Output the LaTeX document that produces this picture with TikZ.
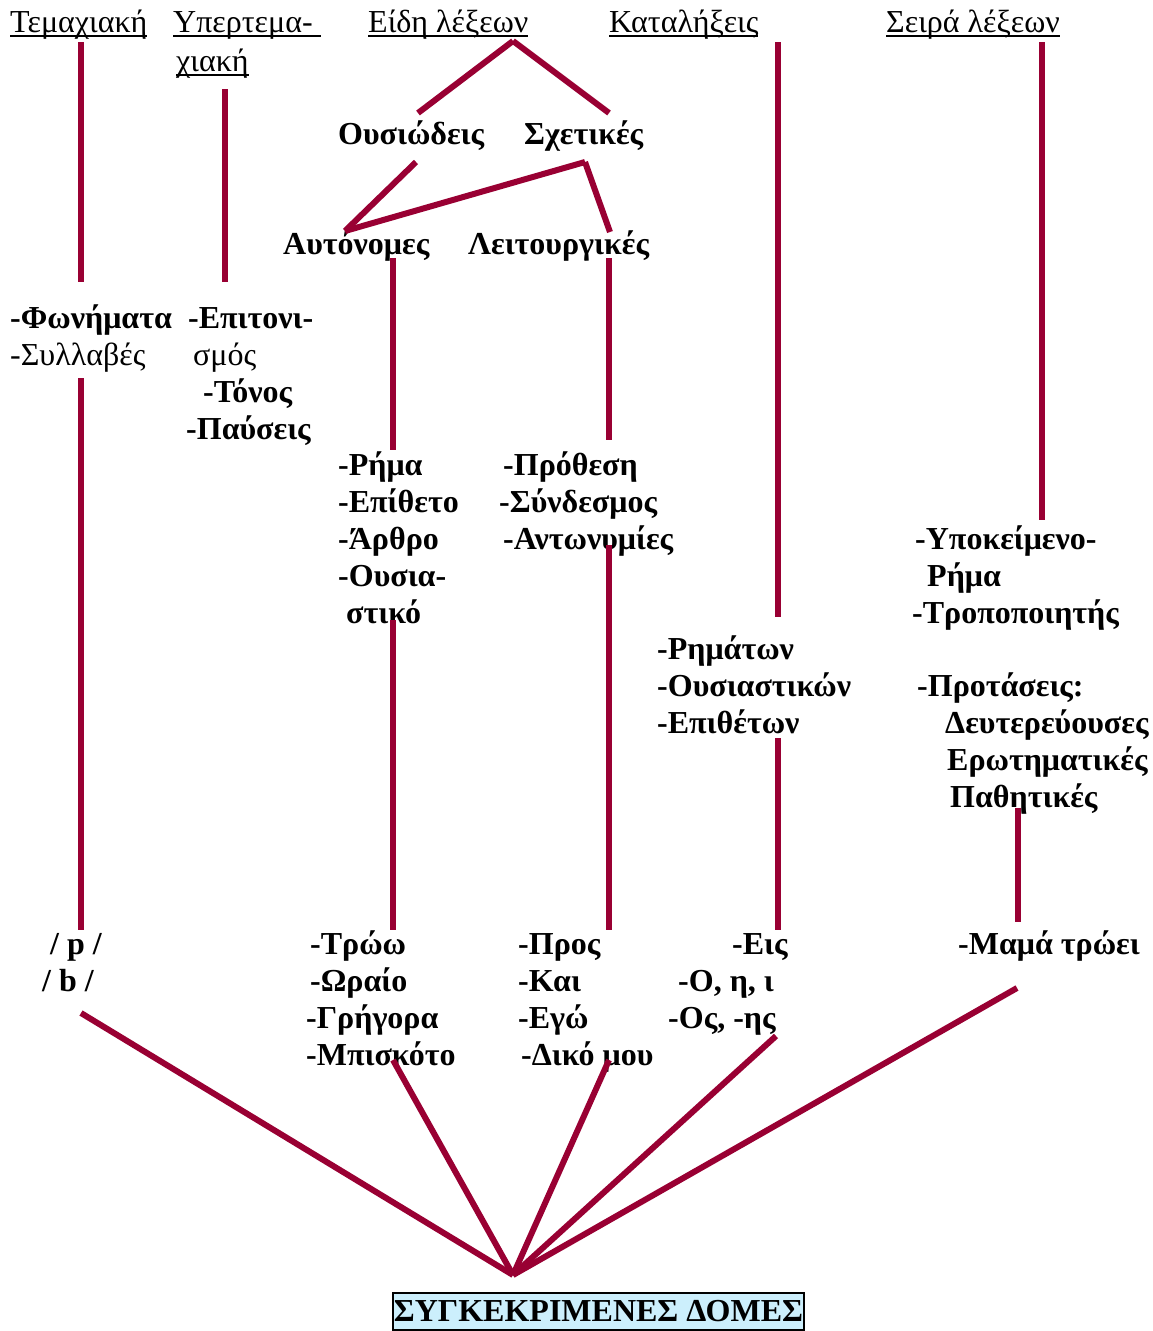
\documentclass[tikz,border=0pt]{standalone}
\usepackage{fontspec}
\setmainfont{Liberation Serif}
\newcommand\myul[1]{\setbox0\hbox{#1}\rlap{\rule[-5pt]{\wd0}{2pt}}\box0}
\definecolor{linkred}{RGB}{153,0,51}
\tikzset{
  txt/.style={anchor=base west, inner sep=0pt, font=\fontsize{32}{37}\selectfont},
  btxt/.style={txt, font=\fontsize{32}{37}\selectfont\bfseries},
  link/.style={draw=linkred, line width=6pt},
  result/.style={draw=black, line width=2.5pt, fill=cyan!20, inner sep=0pt,
    minimum width=411pt, minimum height=37pt, font=\fontsize{32}{37}\selectfont\bfseries}
}
\begin{document}
\begin{tikzpicture}[x=1pt,y=-1pt]
\useasboundingbox (0,0) rectangle (1152,1331);
% headers
\node[txt] (h1) at (10,32) {\myul{Τεμαχιακή}};
\node[txt] (h2a) at (173,32) {\myul{Υπερτεμα-\ }};
\node[txt] (h2b) at (176,71) {\myul{χιακή}};
\node[txt] (h3) at (368,32) {\myul{Είδη λέξεων}};
\node[txt] (h4) at (609,32) {\myul{Καταλήξεις}};
\node[txt] (h5) at (886,32) {\myul{Σειρά λέξεων}};
% level 2
\node[btxt] (ous) at (338,144) {Ουσιώδεις};
\node[btxt] (sxe) at (524,144) {Σχετικές};
\node[btxt] (aut) at (283,254) {Αυτόνομες};
\node[btxt] (leit) at (468,254) {Λειτουργικές};
% column 1
\node[btxt] (fon) at (10,328) {-Φωνήματα};
\node[txt] (syl) at (10,365) {-Συλλαβές};
% column 2
\node[btxt] (epi1) at (188,328) {-Επιτονι-};
\node[txt] (epi2) at (193,365) {σμός};
\node[btxt] (ton) at (203,402) {-Τόνος};
\node[btxt] (pau) at (186,439) {-Παύσεις};
% column 3
\node[btxt] (rim) at (338,475) {-Ρήμα};
\node[btxt] (epit) at (338,512) {-Επίθετο};
\node[btxt] (arth) at (338,549) {-Άρθρο};
\node[btxt] (ousa) at (338,586) {-Ουσια-};
\node[btxt] (ousb) at (346,623) {στικό};
% column 4
\node[btxt] (prot) at (503,475) {-Πρόθεση};
\node[btxt] (synd) at (499,512) {-Σύνδεσμος};
\node[btxt] (antw) at (503,549) {-Αντωνυμίες};
% column 5
\node[btxt] (rimt) at (657,659) {-Ρημάτων};
\node[btxt] (ousk) at (657,696) {-Ουσιαστικών};
\node[btxt] (epith) at (657,733) {-Επιθέτων};
% column 6
\node[btxt] (ypo) at (915,549) {-Υποκείμενο-};
\node[btxt] (rima) at (927,586) {Ρήμα};
\node[btxt] (trop) at (912,623) {-Τροποποιητής};
\node[btxt] (protas) at (917,696) {-Προτάσεις:};
\node[btxt] (deut) at (945,733) {Δευτερεύουσες};
\node[btxt] (erot) at (947,770) {Ερωτηματικές};
\node[btxt] (path) at (950,807) {Παθητικές};
% examples
\node[btxt] (p) at (50,954) {/ p /};
\node[btxt] (b) at (42,991) {/ b /};
\node[btxt] (trw) at (310,954) {-Τρώω};
\node[btxt] (wra) at (310,991) {-Ωραίο};
\node[btxt] (grig) at (306,1028) {-Γρήγορα};
\node[btxt] (mpis) at (306,1065) {-Μπισκότο};
\node[btxt] (pros) at (518,954) {-Προς};
\node[btxt] (kai) at (518,991) {-Και};
\node[btxt] (egw) at (518,1028) {-Εγώ};
\node[btxt] (diko) at (521,1065) {-Δικό μου};
\node[btxt] (eis) at (732,954) {-Εις};
\node[btxt] (ohi) at (678,991) {-Ο, η, ι};
\node[btxt] (osis) at (668,1028) {-Ος, -ης};
\node[btxt] (mama) at (958,954) {-Μαμά τρώει};
% result
\node[result] (dom) at (598.5,1311.5) {ΣΥΓΚΕΚΡΙΜΕΝΕΣ ΔΟΜΕΣ};
% connector end points
\coordinate (c1a) at (81,42);   \coordinate (c1b) at (81,282);
\coordinate (c1c) at (81,378);  \coordinate (c1d) at (81,930);
\coordinate (c2a) at (225,89);  \coordinate (c2b) at (225,282);
\coordinate (apx) at (513,41);
\coordinate (ousT) at (418,113); \coordinate (sxeT) at (609,113);
\coordinate (ousB) at (416,162); \coordinate (sxeB) at (585,162);
\coordinate (autT) at (345,231); \coordinate (leitT) at (610,232);
\coordinate (autB) at (393,258); \coordinate (c3a) at (393,450);
\coordinate (leitB) at (609,258); \coordinate (c4a) at (609,440);
\coordinate (c3b) at (393,620); \coordinate (c3c) at (393,930);
\coordinate (c4b) at (609,545); \coordinate (c4c) at (609,930);
\coordinate (c5a) at (778,42);  \coordinate (c5b) at (778,617);
\coordinate (c5c) at (778,738); \coordinate (c5d) at (778,930);
\coordinate (c6a) at (1042,42); \coordinate (c6b) at (1042,520);
\coordinate (c6c) at (1018,808); \coordinate (c6d) at (1018,922);
\coordinate (fan) at (513,1275);
\coordinate (f1) at (81,1013); \coordinate (f2) at (393,1060);
\coordinate (f3) at (609,1060); \coordinate (f4) at (776,1036);
\coordinate (f5) at (1017,988);
% connectors
\draw[link] (c1a) -- (c1b);
\draw[link] (c1c) -- (c1d);
\draw[link] (c2a) -- (c2b);
\draw[link] (apx) -- (ousT);
\draw[link] (apx) -- (sxeT);
\draw[link] (ousB) -- (autT);
\draw[link] (sxeB) -- (autT);
\draw[link] (sxeB) -- (leitT);
\draw[link] (autB) -- (c3a);
\draw[link] (leitB) -- (c4a);
\draw[link] (c3b) -- (c3c);
\draw[link] (c4b) -- (c4c);
\draw[link] (c5a) -- (c5b);
\draw[link] (c5c) -- (c5d);
\draw[link] (c6a) -- (c6b);
\draw[link] (c6c) -- (c6d);
\draw[link] (f1) -- (fan);
\draw[link] (f2) -- (fan);
\draw[link] (f3) -- (fan);
\draw[link] (f4) -- (fan);
\draw[link] (f5) -- (fan);
\end{tikzpicture}
\end{document}
